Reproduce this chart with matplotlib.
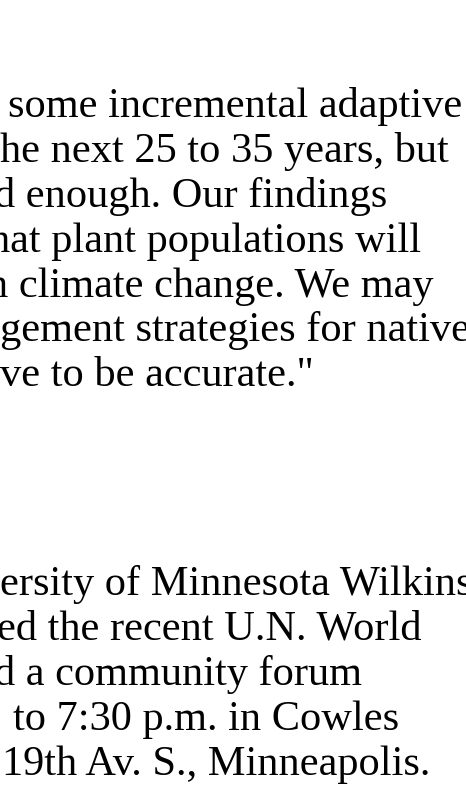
import matplotlib
matplotlib.use("Agg")
import matplotlib.pyplot as plt

# visible text fragments (page is cropped on the left and right)
lines = [
    "some incremental adaptive",
    "he next 25 to 35 years, but",
    "d enough. Our findings",
    "hat plant populations will",
    "n climate change. We may",
    "gement strategies for native",
    "ve to be accurate.\"",
    "ersity of Minnesota Wilkins",
    "ed the recent U.N. World",
    "d a community forum",
    "to 7:30 p.m. in Cowles",
    "19th Av. S., Minneapolis.",
]
# left edge and baseline of each line, in pixels from top-left
x_px = [8, 0, -6, -11, -13, 0, 0, 0, -3, -6, 13, 2]
base_px = [117, 162, 207, 252, 297, 341, 386, 595, 640, 685, 730, 775]

W, H = 466, 794
fig = plt.figure(figsize=(W / 100, H / 100), dpi=100)
fig.patch.set_facecolor("white")

for s, x, y in zip(lines, x_px, base_px):
    fig.text(x / W, 1 - y / H, s, family="Liberation Serif", fontsize=30.5,
             color="black", ha="left", va="baseline")

fig.savefig("out.png", dpi=100, facecolor="white")
